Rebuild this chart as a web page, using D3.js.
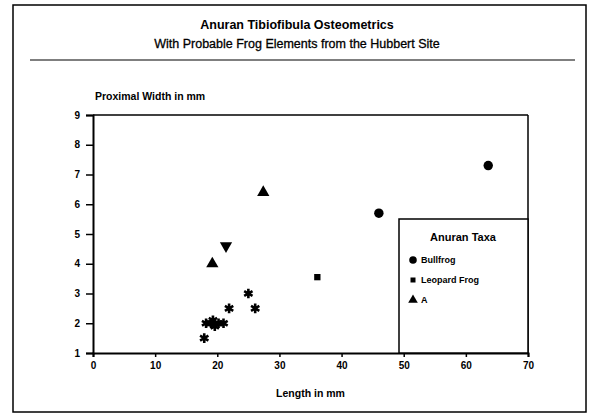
<!DOCTYPE html>
<html>
<head>
<meta charset="utf-8">
<script src="https://cdn.jsdelivr.net/npm/d3@7"></script>
<style>
  body { margin: 0; background: #fff; }
  svg text { font-family: "Liberation Sans", Arial, sans-serif; fill: #000; }
</style>
</head>
<body>
<div id="chart"></div>
<script>
// data (length mm, proximal width mm)
var bullfrog = [[46.0, 5.7], [63.6, 7.3]];
var leopardFrog = [[36.1, 3.55]];
var triangleA = [[19.2, 4.0], [27.4, 6.4]];
var triangleDown = [[21.4, 4.6]];
var stars = [[17.9, 1.5], [18.2, 2.0], [19.0, 2.0], [19.3, 2.1], [19.6, 1.9], [20.2, 2.0],
             [21.0, 2.0], [21.9, 2.5], [25.0, 3.0], [26.1, 2.5]];
var xTicks = [0, 10, 20, 30, 40, 50, 60, 70];
var yTicks = [1, 2, 3, 4, 5, 6, 7, 8, 9];
var legendItems = ["Bullfrog", "Leopard Frog", "A"];

var W = 595, H = 417;
var svg = d3.select("#chart").append("svg")
    .attr("width", W).attr("height", H);

// outer frame and title rule
svg.append("rect").attr("x", 13).attr("y", 5).attr("width", 573).attr("height", 407)
    .attr("fill", "none").attr("stroke", "#000").attr("stroke-width", 1.5);
svg.append("line").attr("x1", 30).attr("x2", 575).attr("y1", 60).attr("y2", 60)
    .attr("stroke", "#000").attr("stroke-width", 1.2);

svg.append("text").attr("x", 297).attr("y", 29).attr("text-anchor", "middle")
    .attr("font-size", 12.5).attr("font-weight", "bold")
    .text("Anuran Tibiofibula Osteometrics");
svg.append("text").attr("x", 297).attr("y", 48).attr("text-anchor", "middle")
    .attr("font-size", 12.5).style("stroke", "#000").style("stroke-width", 0.3)
    .text("With Probable Frog Elements from the Hubbert Site");

var x = d3.scaleLinear().domain([0, 70]).range([93, 528]);
var y = d3.scaleLinear().domain([1, 9]).range([353, 115]);

// plot box top / right
svg.append("line").attr("x1", x(0)).attr("x2", x(70)).attr("y1", y(9)).attr("y2", y(9))
    .attr("stroke", "#000").attr("stroke-width", 1.5);
svg.append("line").attr("x1", x(70)).attr("x2", x(70)).attr("y1", y(9)).attr("y2", y(1))
    .attr("stroke", "#000").attr("stroke-width", 1.5);

var xAxis = svg.append("g").attr("transform", "translate(0," + y(1) + ")")
    .call(d3.axisBottom(x).tickValues(xTicks).tickSize(4).tickPadding(5));
var yAxis = svg.append("g").attr("transform", "translate(" + x(0) + ",0)")
    .call(d3.axisLeft(y).tickValues(yTicks).tickSize(7).tickPadding(6));
[xAxis, yAxis].forEach(function(g) {
  g.select(".domain").attr("stroke", "#000").attr("stroke-width", 2);
  g.selectAll(".tick line").attr("stroke", "#000").attr("stroke-width", 1.5);
  g.selectAll(".tick text").attr("font-size", 10).attr("font-weight", "bold")
      .style("font-family", "'Liberation Sans', Arial, sans-serif");
});

svg.append("text").attr("x", 95).attr("y", 100)
    .attr("font-size", 10.5).attr("font-weight", "bold").text("Proximal Width in mm");
svg.append("text").attr("x", x(35)).attr("y", 397).attr("text-anchor", "middle")
    .attr("font-size", 10.5).attr("font-weight", "bold").text("Length in mm");

function plot(data, type, size, rot) {
  svg.append("g").selectAll("path").data(data).join("path")
      .attr("transform", function(d) {
        return "translate(" + x(d[0]) + "," + y(d[1]) + ")" + (rot ? " rotate(" + rot + ")" : "");
      })
      .attr("d", d3.symbol().type(type).size(size))
      .attr("fill", "#000");
}
plot(bullfrog, d3.symbolCircle, 70);
plot(leopardFrog, d3.symbolSquare, 40);
plot(triangleA, d3.symbolTriangle, 65);
plot(triangleDown, d3.symbolTriangle, 65, 180);

// stars: asterisk drawn with thick strokes
svg.append("g").selectAll("path").data(stars).join("path")
    .attr("transform", function(d) { return "translate(" + x(d[0]) + "," + y(d[1]) + ")"; })
    .attr("d", d3.symbol().type(d3.symbolAsterisk).size(65))
    .attr("fill", "none").attr("stroke", "#000").attr("stroke-width", 2.6);

// legend
var lg = svg.append("g");
lg.append("rect").attr("x", 399).attr("y", 219).attr("width", x(70) - 399).attr("height", y(1) - 219)
    .attr("fill", "#fff").attr("stroke", "#000").attr("stroke-width", 1.5);
lg.append("text").attr("x", 463).attr("y", 241).attr("text-anchor", "middle")
    .attr("font-size", 11).attr("font-weight", "bold").text("Anuran Taxa");
var legendSymbols = [d3.symbolCircle, d3.symbolSquare, d3.symbolTriangle];
var legendSizes = [45, 25, 40];
legendItems.forEach(function(name, i) {
  var ly = 260 + i * 20;
  lg.append("path").attr("transform", "translate(413," + ly + ")")
      .attr("d", d3.symbol().type(legendSymbols[i]).size(legendSizes[i])).attr("fill", "#000");
  lg.append("text").attr("x", 421).attr("y", ly + 3).attr("font-size", 9)
      .attr("font-weight", "bold").text(name);
});
</script>
</body>
</html>
